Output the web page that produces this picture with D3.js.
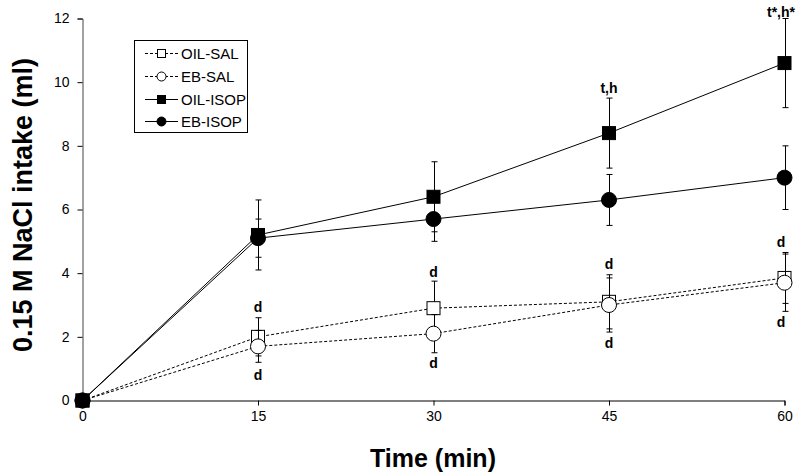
<!DOCTYPE html>
<html><head><meta charset="utf-8">
<script src="https://cdn.jsdelivr.net/npm/d3@7"></script>
<style>body{margin:0;background:#fff}svg{display:block}text{font-family:"Liberation Sans",Arial,sans-serif}</style>
</head><body>
<svg id="c" width="800" height="473"></svg>
<script>
const times = [0, 15, 30, 45, 60];
const oilSal = [0, 2.0, 2.9, 3.1, 3.85];
const oilSalErr = [0, 0.6, 0.85, 0.85, 0.8];
const ebSal = [0, 1.7, 2.1, 3.0, 3.7];
const ebSalErr = [0, 0.5, 0.6, 0.85, 0.9];
const oilIsop = [0, 5.2, 6.4, 8.4, 10.6];
const oilIsopErr = [0, 1.1, 1.1, 1.1, 1.4];
const ebIsop = [0, 5.1, 5.7, 6.3, 7.0];
const ebIsopErr = [0, 0.6, 0.7, 0.8, 1.0];
const xTicks = [0, 15, 30, 45, 60];
const yTicks = [0, 2, 4, 6, 8, 10, 12];
const seriesNames = ["OIL-SAL", "EB-SAL", "OIL-ISOP", "EB-ISOP"];
// annotations: [time, value, text]
const annotations = [
  [15, 2.78, "d"], [15, 0.65, "d"],
  [30, 3.88, "d"], [30, 1.02, "d"],
  [45, 4.12, "d"], [45, 1.65, "d"],
  [60, 4.81, "d"], [60, 2.3, "d"],
  [45, 9.65, "t,h"], [60, 12.05, "t*,h*"]
];

const series = [
  {name: seriesNames[0], v: oilSal, e: oilSalErr, shape: "square", fill: "#fff", dash: "3,2"},
  {name: seriesNames[1], v: ebSal, e: ebSalErr, shape: "circle", fill: "#fff", dash: "3,2"},
  {name: seriesNames[2], v: oilIsop, e: oilIsopErr, shape: "square", fill: "#000", dash: null},
  {name: seriesNames[3], v: ebIsop, e: ebIsopErr, shape: "circle", fill: "#000", dash: null}
];

const svg = d3.select("#c");
const x = d3.scaleLinear().domain([0, 60]).range([82.5, 784.5]);
const y = d3.scaleLinear().domain([0, 12]).range([400.5, 18.5]);

// axes
const xAxis = svg.append("g").attr("transform", "translate(0,400.5)")
  .call(d3.axisBottom(x).tickValues(xTicks).tickSize(5).tickPadding(6));
const yAxis = svg.append("g").attr("transform", "translate(82.5,0)")
  .call(d3.axisLeft(y).tickValues(yTicks).tickSize(5).tickPadding(8));
[xAxis, yAxis].forEach(a => {
  a.select(".domain").attr("stroke", "#000").attr("stroke-width", 1);
  a.selectAll(".tick line").attr("stroke", "#000");
  a.selectAll(".tick text").attr("font-size", 14).attr("fill", "#000")
    .attr("font-family", "'Liberation Sans',Arial,sans-serif");
});
yAxis.select(".domain").attr("stroke", "#444");

// titles
svg.append("text").attr("x", 433).attr("y", 467).attr("text-anchor", "middle")
  .attr("font-size", 25).attr("font-weight", "bold").text("Time (min)");
svg.append("text").attr("transform", "translate(32,205) rotate(-90)").attr("text-anchor", "middle")
  .attr("font-size", 27).attr("font-weight", "bold").text("0.15 M NaCl intake (ml)");

const line = d3.line().x((d, i) => x(times[i])).y(d => y(d));

function marker(g, shape, fill, cx, cy, sq, r) {
  if (shape === "square") {
    g.append("rect").attr("x", cx - sq / 2).attr("y", cy - sq / 2).attr("width", sq).attr("height", sq)
      .attr("fill", fill).attr("stroke", "#000").attr("stroke-width", 1);
  } else {
    g.append("circle").attr("cx", cx).attr("cy", cy).attr("r", r)
      .attr("fill", fill).attr("stroke", "#000").attr("stroke-width", 1);
  }
}

series.forEach(s => {
  const g = svg.append("g");
  g.append("path").attr("d", line(s.v)).attr("fill", "none").attr("stroke", "#000")
    .attr("stroke-width", 1).attr("stroke-dasharray", s.dash);
  s.v.forEach((v, i) => {
    if (s.e[i] > 0) {
      const cx = Math.round(x(times[i])) + 0.5;
      const y1 = y(v + s.e[i]), y2 = y(v - s.e[i]);
      g.append("line").attr("x1", cx).attr("x2", cx).attr("y1", y1).attr("y2", y2).attr("stroke", "#000");
      [y1, y2].forEach(yy => g.append("line").attr("x1", cx - 3).attr("x2", cx + 3)
        .attr("y1", yy).attr("y2", yy).attr("stroke", "#000"));
    }
  });
  s.v.forEach((v, i) => marker(g, s.shape, s.fill, x(times[i]), y(v), 13, 7.5));
});

// annotations
svg.append("g").selectAll("text").data(annotations).join("text")
  .attr("x", d => Math.min(x(d[0]), 781)).attr("y", d => y(d[1])).attr("text-anchor", "middle")
  .attr("font-size", 14).attr("font-weight", "bold").text(d => d[2]);

// legend
const lg = svg.append("g");
lg.append("rect").attr("x", 134.5).attr("y", 40.5).attr("width", 113).attr("height", 92)
  .attr("fill", "#fff").attr("stroke", "#000");
const ly = [53, 76, 99, 121];
series.forEach((s, i) => {
  lg.append("line").attr("x1", 145).attr("x2", 178).attr("y1", ly[i] + 0.5).attr("y2", ly[i] + 0.5)
    .attr("stroke", "#000").attr("stroke-dasharray", s.dash);
  marker(lg, s.shape, s.fill, 161.5, ly[i] + 0.5, 8, 4.5);
  lg.append("text").attr("x", 181).attr("y", ly[i] + 5.5).attr("font-size", 15).text(s.name);
});
</script>
</body></html>
